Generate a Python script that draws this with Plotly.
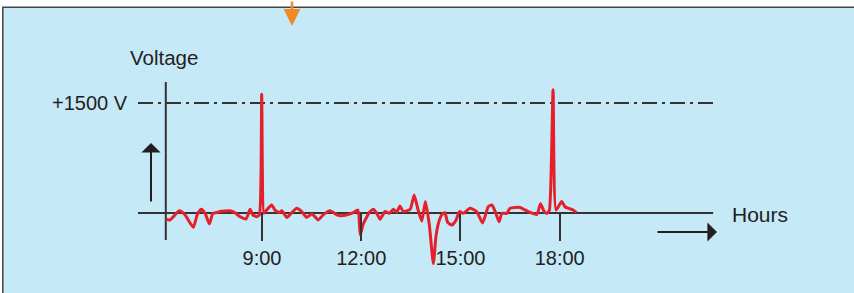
import plotly.graph_objects as go

W, H = 854, 293

# Signal: time of day (hours) and voltage (V)
hours = [6.09, 6.22, 6.32, 6.50, 6.67, 6.92, 7.04, 7.16, 7.28, 7.41, 7.51, 7.63,
         7.73, 8.03, 8.18, 8.33, 8.52, 8.64, 8.72, 8.84, 8.92, 8.99, 9.06, 9.14,
         9.29, 9.39, 9.52, 9.60, 9.75, 9.90, 10.05, 10.20, 10.35, 10.50, 10.60,
         10.70, 10.85, 11.06, 11.26, 11.46, 11.76, 11.90, 11.97, 12.05, 12.17,
         12.27, 12.37, 12.47, 12.57, 12.72, 12.85, 12.97, 13.07, 13.17, 13.27,
         13.48, 13.60, 13.72, 13.83, 13.94, 14.06, 14.18, 14.26, 14.32, 14.43,
         14.53, 14.61, 14.74, 14.87, 14.97, 15.09, 15.29, 15.49, 15.67, 15.84,
         15.95, 16.05, 16.17, 16.25, 16.40, 16.50, 16.80, 17.05, 17.31, 17.42,
         17.53, 17.62, 17.69, 17.80, 17.89, 18.06, 18.16, 18.26, 18.41, 18.51]
volts = [-85, -95, -50, 30, -25, -195, -25, 50, -5, -150, -5, 5,
         20, 30, 5, -50, -80, 50, -25, -50, -25, 1620, -5, 40,
         110, 40, 5, 30, -60, 5, 65, 20, -60, -15, -50,
         -95, -25, 30, -25, -35, 5, 40, -300, -165, -50,
         20, 50, -5, -85, 20, -5, 50, 10, 95, 20,
         50, 245, 40, -110, 155, -165, -690, -315, -165, -25,
         5, -125, -165, -95, 20, -5, 65, 20, -135, 85,
         110, 20, -120, -5, -5, 65, 75, 20, -20, 125,
         20, -5, 40, 1680, 40, 155, 85, 65, 40, 5]

tick_hours = [9, 12, 15, 18]
tick_labels = ["9:00", "12:00", "15:00", "18:00"]
reference_volts = 1500
reference_label = "+1500 V"
y_title = "Voltage"
x_title = "Hours"

x_range = [1.077, 26.90]
y_range = [-1091, 2904]

FONT = "Liberation Sans, Arial, Helvetica, sans-serif"
TXT = "#231F20"
AX = "#333333"


def px(x):
    return x / W


def py(y):
    return 1 - y / H


fig = go.Figure()
fig.add_trace(go.Scatter(
    x=hours, y=volts, mode="lines",
    line=dict(color="#E5202A", width=3, shape="spline", smoothing=0.5),
    hoverinfo="skip", showlegend=False))

shapes = [
    # panel
    dict(type="rect", xref="paper", yref="paper", x0=px(2.8), x1=1.05,
         y0=-0.05, y1=py(7.3), fillcolor="#C6E9F8",
         line=dict(color="#444444", width=1.5), layer="below"),
    # horizontal axis line
    dict(type="line", xref="x", yref="y", x0=5.25, x1=22.64, y0=0, y1=0,
         line=dict(color=AX, width=2), layer="below"),
    # vertical axis line
    dict(type="line", xref="x", yref="y", x0=6.09, x1=6.09, y0=-368, y1=1786,
         line=dict(color=AX, width=2), layer="below"),
    # reference level
    dict(type="line", xref="x", yref="y", x0=5.25, x1=22.64,
         y0=reference_volts, y1=reference_volts,
         line=dict(color=AX, width=2, dash="15px,5px,3px,5px"), layer="below"),
]

annotations = [
    dict(text=y_title, xref="paper", yref="paper", x=px(127.5), y=py(57),
         xanchor="left", yanchor="middle", showarrow=False,
         font=dict(family=FONT, size=20.5, color=TXT)),
    dict(text=reference_label, xref="paper", yref="y", x=px(130), y=reference_volts,
         xanchor="right", yanchor="middle", showarrow=False,
         font=dict(family=FONT, size=20, color=TXT)),
    dict(text=x_title, xref="paper", yref="paper", x=px(729.5), y=py(214),
         xanchor="left", yanchor="middle", showarrow=False,
         font=dict(family=FONT, size=21, color=TXT)),
    # up arrow
    dict(text="", xref="paper", yref="paper", x=px(151), y=py(143),
         ax=0, ay=60, showarrow=True, arrowhead=1, arrowsize=1.6,
         arrowwidth=2, arrowcolor="#231F20", standoff=0),
    # right arrow
    dict(text="", xref="paper", yref="paper", x=px(717), y=py(232),
         ax=-61, ay=0, showarrow=True, arrowhead=1, arrowsize=1.6,
         arrowwidth=2, arrowcolor="#231F20", standoff=0),
    # orange arrow at top
    dict(text="", xref="paper", yref="paper", x=px(292), y=py(26),
         ax=0, ay=-30, showarrow=True, arrowhead=2, arrowsize=1.35,
         arrowwidth=2.5, arrowcolor="#F08A24", standoff=0),
]

fig.update_layout(
    width=W, height=H,
    margin=dict(l=0, r=0, t=0, b=0, pad=0),
    paper_bgcolor="white", plot_bgcolor="rgba(0,0,0,0)",
    shapes=shapes, annotations=annotations,
    xaxis=dict(range=x_range, showgrid=False, zeroline=False, showline=False,
               anchor="free", position=1 - 213 / H,
               ticks="outside", ticklen=27, tickwidth=2, tickcolor=AX,
               tickvals=tick_hours, ticktext=tick_labels,
               tickfont=dict(family=FONT, size=20, color=TXT)),
    yaxis=dict(range=y_range, visible=False),
)

fig.write_html("out.html", config={"displayModeBar": False},
               post_script="document.body.style.margin='0';document.body.style.overflow='hidden';")
